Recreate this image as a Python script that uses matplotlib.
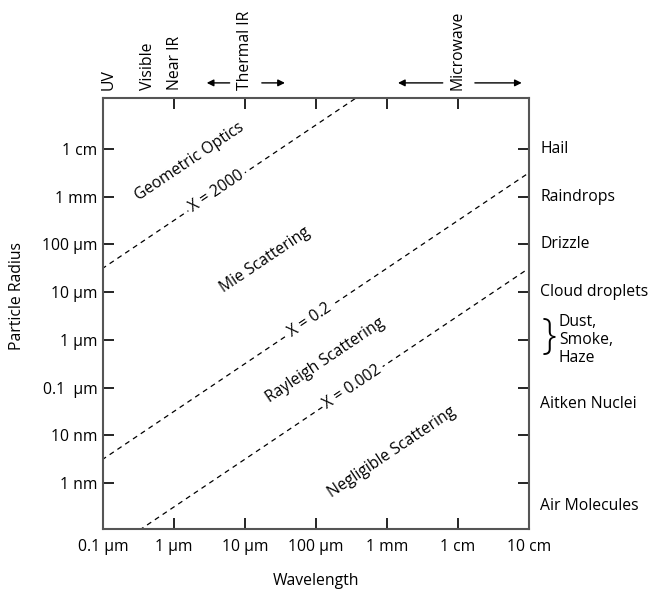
import numpy as np
import matplotlib
matplotlib.use("Agg")
import matplotlib.pyplot as plt

plt.rcParams['font.family'] = ['Open Sans', 'DejaVu Sans']

# wavelength axis (m) and labels
x_ticks = [1e-7, 1e-6, 1e-5, 1e-4, 1e-3, 1e-2, 1e-1]
x_labels = ['0.1 µm', '1 µm', '10 µm', '100 µm', '1 mm', '1 cm', '10 cm']
# particle radius axis (m) and labels
y_ticks = [1e-9, 1e-8, 1e-7, 1e-6, 1e-5, 1e-4, 1e-3, 1e-2]
y_labels = ['1 nm', '10 nm', '0.1  µm', '1 µm', '10 µm', '100 µm', '1 mm', '1 cm']

# size parameter X = 2*pi*r/lambda boundaries and where their labels sit (lambda)
size_params = [2000, 0.2, 0.002]
size_labels = ['X = 2000', 'X = 0.2', 'X = 0.002']
size_label_wl = [4.0e-6, 8.2e-5, 3.3e-4]

# scattering regimes
regimes = ['Geometric Optics', 'Mie Scattering', 'Rayleigh Scattering', 'Negligible Scattering']
regime_wl = [1.68e-6, 1.91e-5, 1.34e-4, 1.17e-3]
regime_r = [5.3e-3, 4.7e-5, 3.8e-7, 4.5e-9]

# spectral bands on top
bands = ['UV', 'Visible', 'Near IR', 'Thermal IR', 'Microwave']
band_wl = [1.2e-7, 4.3e-7, 1.03e-6, 1.0e-5, 1.0e-2]
# arrows (tail, head) for band ranges
band_arrows = [(6.1e-6, 2.9e-6), (1.73e-5, 3.66e-5), (6.1e-3, 1.43e-3), (1.73e-2, 7.9e-2)]

# particle types on the right
particles = ['Hail', 'Raindrops', 'Drizzle', 'Cloud droplets', 'Aitken Nuclei', 'Air Molecules']
particle_r = [1e-2, 1e-3, 1e-4, 1e-5, 4.5e-8, 3.3e-10]
dust_r = 1e-6

fs = 11.3

fig = plt.figure(figsize=(6.51, 5.92), dpi=100)
ax = fig.add_axes([0.158, 0.1064, 0.6546, 0.7281])
ax.set_xscale('log')
ax.set_yscale('log')
ax.set_xlim(1e-7, 1e-1)
ax.set_ylim(1.1e-10, 0.117)

ax.set_xticks(x_ticks)
ax.set_xticklabels(x_labels)
ax.set_yticks(y_ticks)
ax.set_yticklabels(y_labels)
ax.minorticks_off()
ax.tick_params(direction='in', length=8, width=1.2, labelsize=fs, colors='black',
               top=True, right=True, pad=4)
ax.tick_params(axis='x', pad=7)
for s in ax.spines.values():
    s.set_color('#555555')
    s.set_linewidth(1.5)

ax.set_xlabel('Wavelength', fontsize=fs, labelpad=13)
ax.set_ylabel('Particle Radius', fontsize=fs)
ax.yaxis.set_label_coords(-0.183, 0.54)

# angle of lines r ~ lambda on screen
p0 = ax.transData.transform((1e-5, 1e-5))
p1 = ax.transData.transform((1e-4, 1e-4))
ang = np.degrees(np.arctan2(p1[1] - p0[1], p1[0] - p0[0]))

wl = np.logspace(-8, 0, 200)
for X, lab, lw_ in zip(size_params, size_labels, size_label_wl):
    ax.plot(wl, X * wl / (2 * np.pi), color='black', lw=0.9, ls=(0, (4, 3.5)))
    ax.text(lw_, X * lw_ / (2 * np.pi), lab, rotation=ang, rotation_mode='anchor',
            ha='center', va='center', fontsize=fs,
            bbox=dict(facecolor='white', edgecolor='none', pad=2))

for lab, x, y in zip(regimes, regime_wl, regime_r):
    ax.text(x, y, lab, rotation=ang, rotation_mode='anchor', ha='center', va='center',
            fontsize=fs)

for lab, x in zip(bands, band_wl):
    ax.annotate(lab, xy=(x, 1.0), xycoords=('data', 'axes fraction'),
                xytext=(0, 6), textcoords='offset points', rotation=90,
                ha='center', va='bottom', fontsize=fs)
for tail, head in band_arrows:
    ax.annotate('', xy=(head, 1.035), xycoords=('data', 'axes fraction'),
                xytext=(tail, 1.035), textcoords=('data', 'axes fraction'),
                arrowprops=dict(arrowstyle='-|>', color='black', lw=1,
                                mutation_scale=10, shrinkA=0, shrinkB=0))

for lab, r in zip(particles, particle_r):
    ax.annotate(lab, xy=(1.0, r), xycoords=('axes fraction', 'data'),
                xytext=(8, 0), textcoords='offset points', ha='left', va='center',
                fontsize=fs)
ax.annotate('}', xy=(1.0, dust_r), xycoords=('axes fraction', 'data'),
            xytext=(14, 2), textcoords='offset points', ha='center', va='center',
            fontsize=30, fontweight='light')
ax.annotate('Dust,\nSmoke,\nHaze', xy=(1.0, dust_r), xycoords=('axes fraction', 'data'),
            xytext=(21.5, 0), textcoords='offset points', ha='left', va='center',
            fontsize=fs, linespacing=1.2)

fig.savefig('out.png', dpi=100)
